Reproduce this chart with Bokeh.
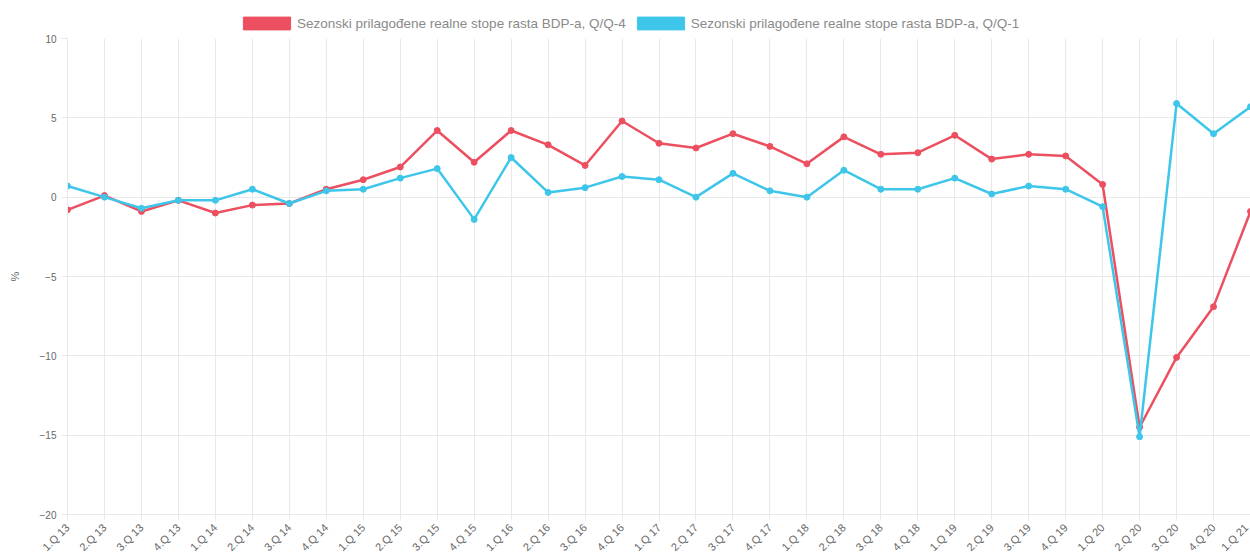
from bokeh.plotting import figure
from bokeh.layouts import column
from bokeh.models import Range1d, FixedTicker, Legend, LegendItem, ColumnDataSource
from bokeh.embed import file_html
from bokeh.resources import INLINE

categories = ["1.Q 13", "2.Q 13", "3.Q 13", "4.Q 13", "1.Q 14", "2.Q 14", "3.Q 14", "4.Q 14",
              "1.Q 15", "2.Q 15", "3.Q 15", "4.Q 15", "1.Q 16", "2.Q 16", "3.Q 16", "4.Q 16",
              "1.Q 17", "2.Q 17", "3.Q 17", "4.Q 17", "1.Q 18", "2.Q 18", "3.Q 18", "4.Q 18",
              "1.Q 19", "2.Q 19", "3.Q 19", "4.Q 19", "1.Q 20", "2.Q 20", "3.Q 20", "4.Q 20",
              "1.Q 21"]
qq4 = [-0.8, 0.1, -0.9, -0.2, -1.0, -0.5, -0.4, 0.5, 1.1, 1.9, 4.2, 2.2, 4.2, 3.3, 2.0, 4.8,
       3.4, 3.1, 4.0, 3.2, 2.1, 3.8, 2.7, 2.8, 3.9, 2.4, 2.7, 2.6, 0.8, -14.5, -10.1, -6.9, -0.9]
qq1 = [0.7, 0.0, -0.7, -0.2, -0.2, 0.5, -0.4, 0.4, 0.5, 1.2, 1.8, -1.4, 2.5, 0.3, 0.6, 1.3,
       1.1, 0.0, 1.5, 0.4, 0.0, 1.7, 0.5, 0.5, 1.2, 0.2, 0.7, 0.5, -0.6, -15.1, 5.9, 4.0, 5.7]
y_ticks = [-20, -15, -10, -5, 0, 5, 10]
label_q4 = "Sezonski prilagođene realne stope rasta BDP-a, Q/Q-4"
label_q1 = "Sezonski prilagođene realne stope rasta BDP-a, Q/Q-1"

RED = "#ec5060"
BLUE = "#3ec6ea"
GRID = "#e9e9e9"
TXT = "#666666"

x = list(range(len(categories)))
src = ColumnDataSource(dict(x=x, q4=qq4, q1=qq1))

# ---- legend strip ----
lg = figure(width=1250, height=32, output_backend="svg", toolbar_location=None,
            min_border=0, x_range=Range1d(0, 1), y_range=Range1d(0, 1))
lg.outline_line_color = None
lg.axis.visible = False
lg.grid.visible = False
# swatch renderers placed outside the visible range; only their legend boxes show
k1 = lg.quad(left=[5], right=[6], top=[5], bottom=[4], fill_color=RED, line_color=RED)
k2 = lg.quad(left=[5], right=[6], top=[5], bottom=[4], fill_color=BLUE, line_color=BLUE)
legend = Legend(items=[LegendItem(label=label_q4, renderers=[k1]),
                       LegendItem(label=label_q1, renderers=[k2])],
                orientation="horizontal", location=(170, 1),
                glyph_width=59, glyph_height=16, label_text_font_size="13.5px",
                label_text_color="#8a8a8a", label_text_font="Liberation Sans",
                label_height=16, padding=0, margin=0, spacing=5, label_standoff=1,
                border_line_color=None, background_fill_alpha=0)
lg.add_layout(legend, "center")

# ---- main chart ----
p = figure(width=1250, height=528, output_backend="svg", toolbar_location=None,
           x_range=Range1d(0, len(categories) - 1), y_range=Range1d(-20, 10),
           min_border_left=67, min_border_right=0, min_border_top=6, min_border_bottom=42)
p.outline_line_color = None

p.line("x", "q4", source=src, line_color=RED, line_width=2.5)
p.scatter("x", "q4", source=src, size=6, fill_color=RED, line_color=RED)
p.line("x", "q1", source=src, line_color=BLUE, line_width=2.5)
p.scatter("x", "q1", source=src, size=6, fill_color=BLUE, line_color=BLUE)

p.xaxis.ticker = FixedTicker(ticks=x)
p.xaxis.major_label_overrides = {i: c for i, c in enumerate(categories)}
p.xaxis.major_label_orientation = 0.785
p.yaxis.ticker = FixedTicker(ticks=y_ticks)
p.yaxis.axis_label = "%"
p.yaxis.axis_label_standoff = 16

for ax in (p.xaxis, p.yaxis):
    ax.axis_line_color = GRID
    ax.major_tick_line_color = GRID
    ax.minor_tick_line_color = None
    ax.major_tick_out = 6
    ax.major_tick_in = 0
    ax.major_label_text_color = TXT
    ax.major_label_text_font = "Liberation Sans"
    ax.axis_label_text_color = TXT
    ax.axis_label_text_font_size = "11px"
    ax.axis_label_text_font_style = "normal"
    ax.axis_label_text_font = "Liberation Sans"
p.xaxis.major_label_text_font_size = "11px"
p.yaxis.major_label_text_font_size = "10px"

p.xgrid.grid_line_color = GRID
p.ygrid.grid_line_color = GRID

layout = column(lg, p, spacing=0)
open("out.html", "w").write(file_html(layout, INLINE))
